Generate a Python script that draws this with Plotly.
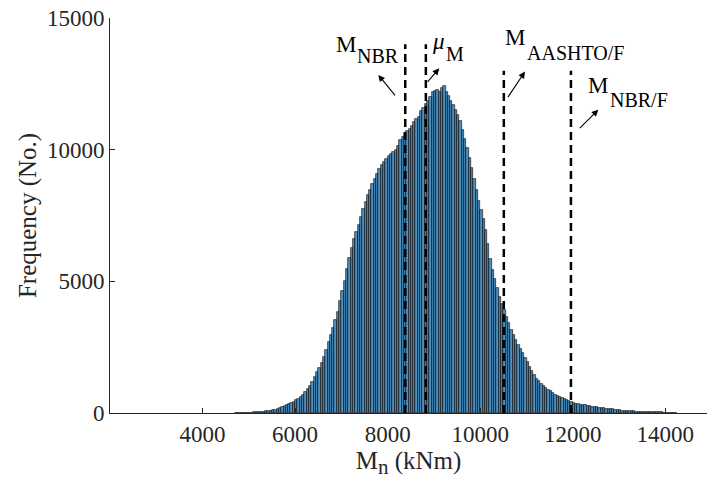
import numpy as np
import plotly.graph_objects as go

# ---- data ----
bin_start = 4700          # left edge of first bin (kNm)
bin_width = 50            # bin width (kNm)
counts = [
    3, 4, 5, 6, 8, 10, 12, 15, 20, 25, 32, 40, 50, 60, 75, 90, 110, 130, 160, 190,
    220, 255, 290, 330, 375, 420, 475, 540, 610, 700, 800, 910, 1020, 1180, 1360, 1540, 1720, 1900, 2130, 2400,
    2680, 2960, 3240, 3520, 3850, 4250, 4650, 5000, 5450, 5870, 6250, 6600, 6880, 7150, 7430, 7730, 8030, 8280, 8480, 8690,
    8900, 9080, 9280, 9400, 9520, 9640, 9760, 9850, 9900, 9980, 10150, 10350, 10500, 10630, 10700, 10780, 10900, 11050, 11150, 11250,
    11450, 11600, 11730, 11860, 12000, 12180, 12230, 12260, 12200, 12330, 12400, 12200, 12050, 11850, 11680, 11520, 11330, 11100, 10750, 10400,
    10050, 9700, 9300, 8870, 8450, 8050, 7700, 7350, 6950, 6400, 5850, 5420, 5100, 4750, 4420, 4130, 3900, 3650, 3420, 3160,
    2960, 2790, 2600, 2430, 2270, 2100, 1930, 1760, 1600, 1450, 1300, 1200, 1110, 1020, 940, 880, 820, 760, 700, 650,
    610, 560, 520, 480, 440, 410, 390, 360, 340, 320, 300, 290, 280, 260, 240, 225, 210, 195, 185, 175,
    165, 155, 145, 135, 125, 115, 105, 95, 88, 80, 72, 65, 58, 52, 48, 45, 42, 40, 38, 35,
    32, 30, 27, 24, 21, 18, 15, 12, 9, 6, 3,
]
ref_main = ["M", "<i>μ</i>", "M", "M"]
ref_subs = ["NBR", "M", "AASHTO/F", "NBR/F"]
ref_values = [8380, 8825, 10510, 11960]
ref_tops = [14000, 14000, 13000, 13000]
x_ticks = [4000, 6000, 8000, 10000, 12000, 14000]
y_ticks = [0, 5000, 10000, 15000]

centers = bin_start + bin_width * (np.arange(len(counts)) + 0.5)

FONT = "Liberation Serif"

fig = go.Figure()
fig.add_trace(go.Bar(
    x=centers, y=counts, width=bin_width,
    marker=dict(color="rgba(0,100,170,0.7)", line=dict(color="#1a1a1a", width=0.7)),
    showlegend=False, hoverinfo="skip",
))

for v, t in zip(ref_values, ref_tops):
    fig.add_shape(type="line", x0=v, x1=v, y0=0, y1=t, xref="x", yref="y",
                  line=dict(color="black", width=2.5, dash="8px,5px"), layer="above")

# label placement (data coords): main symbol and subscript, arrows (head, tail offset px)
main_pos = [(6840, 13996), (8914, 14125), (10492, 14258), (12285, 12431)]
sub_pos = [(7294, 13540), (9217, 13631), (10967, 13673), (12761, 11885)]
arrow_heads = [(7797, 12840), (9115, 13090), (10967, 12965), (12551, 11518)]
arrow_tails = [(18, 22), (-13, 15), (-18, 27), (-20, 20)]

for m, s, (mx, my), (sx, sy), (hx, hy), (ax, ay) in zip(ref_main, ref_subs, main_pos, sub_pos, arrow_heads, arrow_tails):
    fig.add_annotation(x=mx, y=my, text=m, showarrow=False, xanchor="left", yanchor="middle",
                       font=dict(family=FONT, size=23, color="black"))
    fig.add_annotation(x=sx, y=sy, text=s, showarrow=False, xanchor="left", yanchor="middle",
                       font=dict(family=FONT, size=20, color="black"))
    fig.add_annotation(x=hx, y=hy, text="", showarrow=True, ax=ax, ay=ay,
                       arrowhead=2, arrowsize=1.2, arrowwidth=1.1, arrowcolor="black")

axis_common = dict(showline=True, linecolor="#262626", linewidth=1, ticks="inside", ticklen=5,
                   tickcolor="#262626", showgrid=False, zeroline=False,
                   tickfont=dict(family=FONT, size=23, color="#262626"))
fig.update_xaxes(range=[2000, 14900], tickvals=x_ticks, ticktext=[str(v) for v in x_ticks], **axis_common,
                 title=dict(text="M" + "<sub><span style='font-size:21px'>n</span></sub> (kNm)",
                            font=dict(family=FONT, size=25, color="#262626"), standoff=2))
fig.update_yaxes(range=[0, 15000], tickvals=y_ticks, ticktext=[str(v) for v in y_ticks], **axis_common,
                 title=dict(text="Frequency (No.)", font=dict(family=FONT, size=25, color="#262626"), standoff=3))

fig.update_layout(width=707, height=485, margin=dict(l=110, r=0, t=18, b=72),
                  plot_bgcolor="white", paper_bgcolor="white", bargap=0)
fig.write_html("out.html")
